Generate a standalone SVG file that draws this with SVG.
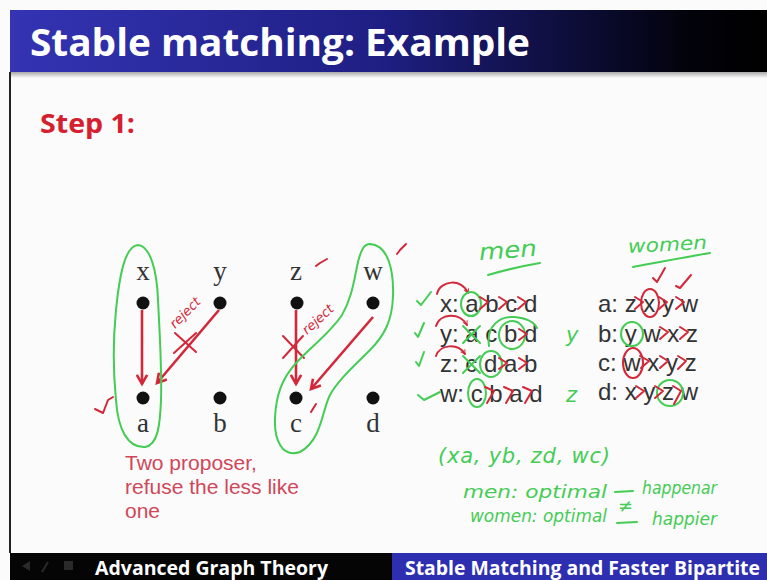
<svg xmlns="http://www.w3.org/2000/svg" width="767" height="580" viewBox="0 0 767 580">
<defs>
<linearGradient id="titleGrad" x1="0" y1="0" x2="1" y2="0">
<stop offset="0" stop-color="#3434b4"/>
<stop offset="0.5" stop-color="#1e1e82"/>
<stop offset="0.9" stop-color="#02020a"/>
<stop offset="1" stop-color="#000000"/>
</linearGradient>
<linearGradient id="shadowGrad" x1="0" y1="0" x2="0" y2="1">
<stop offset="0" stop-color="#a8a8a8"/>
<stop offset="1" stop-color="#fbfbfb"/>
</linearGradient>
<marker id="arrow" viewBox="0 0 10 10" refX="8" refY="5" markerWidth="5" markerHeight="5" orient="auto" markerUnits="strokeWidth">
<path d="M1,1 L8,5 L1,9" fill="none" stroke="#d2283a" stroke-width="2"/>
</marker>
<marker id="arcArrow" viewBox="0 0 10 10" refX="8" refY="5" markerWidth="6" markerHeight="6" orient="auto" markerUnits="userSpaceOnUse">
<path d="M1,1 L8,5 L1,9" fill="none" stroke="#d2283a" stroke-width="1.6"/>
</marker>
</defs>
<style>
.dot{fill:#111111}
.lbl{font-family:"Liberation Serif","Times New Roman",serif;font-size:27px;fill:#333333;text-anchor:middle}
.edge{stroke:#d2283a;stroke-width:2.6;fill:none;marker-end:url(#arrow)}
.red{stroke:#d2283a;stroke-width:2;fill:none;stroke-linecap:round;stroke-linejoin:round}
.green{stroke:#44cc55;stroke-width:2;fill:none;stroke-linecap:round;stroke-linejoin:round}
.pref{font-family:"Liberation Sans",Arial,sans-serif;font-size:24px;fill:#333333}
.hand{font-family:"DejaVu Sans",sans-serif;font-style:italic;fill:#44cc55}
.handred{font-family:"DejaVu Sans",sans-serif;font-style:italic;fill:#d2283a;font-size:13px}
.note{font-family:"Liberation Sans",Arial,sans-serif;font-size:21px;fill:#d0475a}
.foot{font-family:"Open Sans","Liberation Sans",sans-serif;font-weight:bold;font-size:19px;fill:#ffffff}
</style>

<!-- background -->
<rect x="0" y="0" width="767" height="580" fill="#fbfbfb"/>
<rect x="10" y="10" width="757" height="62" fill="url(#titleGrad)"/>
<rect x="10" y="72" width="757" height="6" fill="url(#shadowGrad)"/>
<line x1="10" y1="72" x2="10" y2="553" stroke="#222222" stroke-width="2"/>
<text x="30" y="56" font-family="Open Sans,'Liberation Sans',sans-serif" font-weight="bold" font-size="38" fill="#ffffff" textLength="500" lengthAdjust="spacingAndGlyphs">Stable matching: Example</text>
<text x="40" y="133" font-family="Open Sans,'Liberation Sans',sans-serif" font-weight="bold" font-size="26" fill="#d42030" textLength="95" lengthAdjust="spacingAndGlyphs">Step 1:</text>

<!-- nodes -->
<g id="node-x"><circle class="dot" cx="143" cy="303" r="6.5"/><text class="lbl" x="143" y="280">x</text></g>
<g id="node-y"><circle class="dot" cx="220" cy="303" r="6.5"/><text class="lbl" x="220" y="280">y</text></g>
<g id="node-z"><circle class="dot" cx="297" cy="303" r="6.5"/><text class="lbl" x="296" y="280">z</text></g>
<g id="node-w"><circle class="dot" cx="373" cy="303" r="6.5"/><text class="lbl" x="373" y="280">w</text></g>
<g id="node-a"><circle class="dot" cx="143" cy="398" r="6.5"/><text class="lbl" x="143" y="432">a</text></g>
<g id="node-b"><circle class="dot" cx="220" cy="398" r="6.5"/><text class="lbl" x="220" y="432">b</text></g>
<g id="node-c"><circle class="dot" cx="296" cy="398" r="6.5"/><text class="lbl" x="296" y="432">c</text></g>
<g id="node-d"><circle class="dot" cx="373" cy="398" r="6.5"/><text class="lbl" x="373" y="432">d</text></g>

<!-- connectors -->
<g id="connectors">
<line class="edge" x1="142" y1="310" x2="142" y2="384"/>
<line class="edge" x1="219" y1="310" x2="157" y2="383"/>
<line class="edge" x1="296" y1="310" x2="296" y2="384"/>
<line class="edge" x1="373" y1="317" x2="311" y2="389"/>
</g>

<!-- annotations on graph -->
<g id="graph-annotations">
<path class="red" d="M175,333 L196,352 M196,333 L174,353" stroke-width="2.4"/>
<path class="red" d="M283,336 L304,358 M303,336 L283,358" stroke-width="2.4"/>
<text class="handred" transform="translate(175,329) rotate(-45)">reject</text>
<text class="handred" transform="translate(307,335) rotate(-42)">reject</text>
<path class="red" d="M316,266 L320,263 L327,259" stroke-width="1.8"/>
<path class="red" d="M397,254 L400,250 L406,244" stroke-width="1.8"/>
<path class="red" d="M95,409 L103,413 L108,400 L113,397" stroke-width="1.8"/>
<path class="red" d="M311,412 L316,404" stroke-width="1.8"/>
<path class="green" d="M138,245 C150,246 157,270 158,300 C160,340 162,370 161,400 C160,425 158,445 145,447 C128,448 118,430 116,400 C113,370 113,340 116,310 C119,280 124,246 138,245 Z"/>
<path class="green" d="M370,244 C388,245 394,270 393,297 C392,320 385,335 370,350 C355,365 338,380 330,395 C322,410 322,440 300,452 C282,458 274,440 275,418 C276,395 282,378 297,362 C312,346 330,333 342,315 C352,298 354,280 358,262 C361,250 364,244 370,244 Z"/>
</g>

<!-- preference lists -->
<g id="men-list">
<text class="hand" x="479" y="258" font-size="23" textLength="58" lengthAdjust="spacingAndGlyphs" transform="rotate(-4 508 252)">men</text>
<path class="green" d="M488,275 C505,270 522,266 540,263"/>
<text class="pref" x="440" y="312">x: a b c d</text>
<text class="pref" x="440" y="342">y: a c b d</text>
<text class="pref" x="440" y="372">z: c d a b</text>
<text class="pref" x="440" y="402">w: c b a d</text>
<!-- green checks -->
<path class="green" d="M417,301 L421,305 L431,292"/>
<path class="green" d="M415,333 L418,337 L424,323"/>
<path class="green" d="M416,362 L419,366 L424,352"/>
<path class="green" d="M418,395 L424,400 L440,392"/>
<!-- x row -->
<path class="red" d="M437,294 C440,280 462,278 468,293" marker-end="url(#arcArrow)" stroke-width="1.6"/>
<ellipse class="green" cx="471" cy="304" rx="10" ry="12"/>
<path class="red" d="M480,297 L488,302 L480,309 M499,297 L507,302 L499,309 M518,297 L526,302 L518,309" stroke-width="1.6"/>
<!-- y row -->
<path class="red" d="M436,326 C440,313 460,312 467,325" marker-end="url(#arcArrow)" stroke-width="1.6"/>
<path class="green" d="M463,326 L480,343 M480,326 L463,343" stroke-width="1.8"/>
<ellipse class="green" cx="512" cy="335" rx="13" ry="14"/>
<path class="green" d="M489,346 C486,326 500,316 514,317 C526,318 534,322 537,328"/>
<path class="red" d="M519,329 L527,334 L519,340" stroke-width="1.6"/>
<!-- z row -->
<path class="red" d="M436,356 C440,344 458,343 465,354" marker-end="url(#arcArrow)" stroke-width="1.6"/>
<path class="green" d="M463,356 L480,373 M480,356 L463,373" stroke-width="1.8"/>
<ellipse class="green" cx="491" cy="364" rx="11" ry="13"/>
<path class="red" d="M499,358 L507,363 L499,369 M519,358 L527,363 L519,369" stroke-width="1.6"/>
<!-- w row -->
<ellipse class="green" cx="477" cy="393" rx="9" ry="14"/>
<path class="red" d="M485,387 L494,391 L487,403 M504,387 L513,391 L506,403 M523,387 L532,391 L525,403" stroke-width="1.6"/>
</g>

<g id="women-list">
<text class="hand" x="628" y="251" font-size="19" textLength="79" lengthAdjust="spacingAndGlyphs" transform="rotate(-3 667 246)">women</text>
<path class="green" d="M633,267 C660,262 686,257 710,253"/>
<path class="red" d="M653,278 L657,282 L665,268" stroke-width="1.6"/>
<path class="red" d="M676,286 L680,288 L691,275" stroke-width="1.6"/>
<text class="pref" x="598" y="312">a: z x y w</text>
<text class="pref" x="598" y="342">b: y w x z</text>
<text class="pref" x="598" y="371">c: w x y z</text>
<text class="pref" x="598" y="400">d: x y z w</text>
<!-- a row -->
<ellipse class="red" cx="650" cy="303" rx="9" ry="14"/>
<path class="red" d="M635,297 L643,302 L635,309 M659,297 L667,302 L659,309 M676,297 L684,302 L676,309" stroke-width="1.6"/>
<!-- b row -->
<ellipse class="green" cx="632" cy="334" rx="11" ry="12"/>
<path class="red" d="M660,327 L668,332 L660,339 M680,327 L688,332 L680,339" stroke-width="1.6"/>
<!-- c row -->
<ellipse class="red" cx="633" cy="363" rx="10" ry="15"/>
<path class="red" d="M640,356 L649,361 L641,368 M660,356 L668,361 L660,368 M678,356 L686,361 L678,369" stroke-width="1.6"/>
<!-- d row -->
<ellipse class="green" cx="670" cy="393" rx="13" ry="13"/>
<path class="red" d="M636,386 L644,391 L636,398 M655,386 L663,391 L655,398 M673,386 L681,391 L674,404" stroke-width="1.6"/>
<text class="hand" x="566" y="342" font-size="21">y</text>
<text class="hand" x="566" y="402" font-size="21">z</text>
</g>

<!-- notes -->
<g id="note-text">
<text class="note" x="125" y="470">Two proposer,</text>
<text class="note" x="125" y="494">refuse the less like</text>
<text class="note" x="125" y="518">one</text>
</g>

<g id="handwritten-result">
<text class="hand" x="438" y="463" font-size="21" textLength="172" lengthAdjust="spacing">(xa, yb, zd, wc)</text>
<text class="hand" x="463" y="498" font-size="17" textLength="144" lengthAdjust="spacingAndGlyphs">men: optimal</text>
<text class="hand" x="470" y="522" font-size="17" textLength="137" lengthAdjust="spacingAndGlyphs">women: optimal</text>
<path class="green" d="M615,492 L633,491 M617,523 L637,522"/>
<text class="hand" x="618" y="512" font-size="18">≠</text>
<text class="hand" x="642" y="494" font-size="18" textLength="75" lengthAdjust="spacingAndGlyphs">happenar</text>
<text class="hand" x="652" y="525" font-size="18" textLength="65" lengthAdjust="spacingAndGlyphs">happier</text>
</g>

<!-- footer -->
<rect x="10" y="553" width="382" height="27" fill="#050505"/>
<rect x="392" y="553" width="375" height="27" fill="#2e2eb0"/>
<path d="M22,566 L30,561 L30,571 Z" fill="#2a2a2a"/>
<path d="M42,572 L48,562" stroke="#2a2a2a" stroke-width="2"/>
<rect x="64" y="561" width="9" height="9" fill="#2a2a2a"/>
<text class="foot" x="95" y="575" textLength="233" lengthAdjust="spacingAndGlyphs">Advanced Graph Theory</text>
<text class="foot" x="405" y="575" textLength="355" lengthAdjust="spacingAndGlyphs">Stable Matching and Faster Bipartite</text>
</svg>
